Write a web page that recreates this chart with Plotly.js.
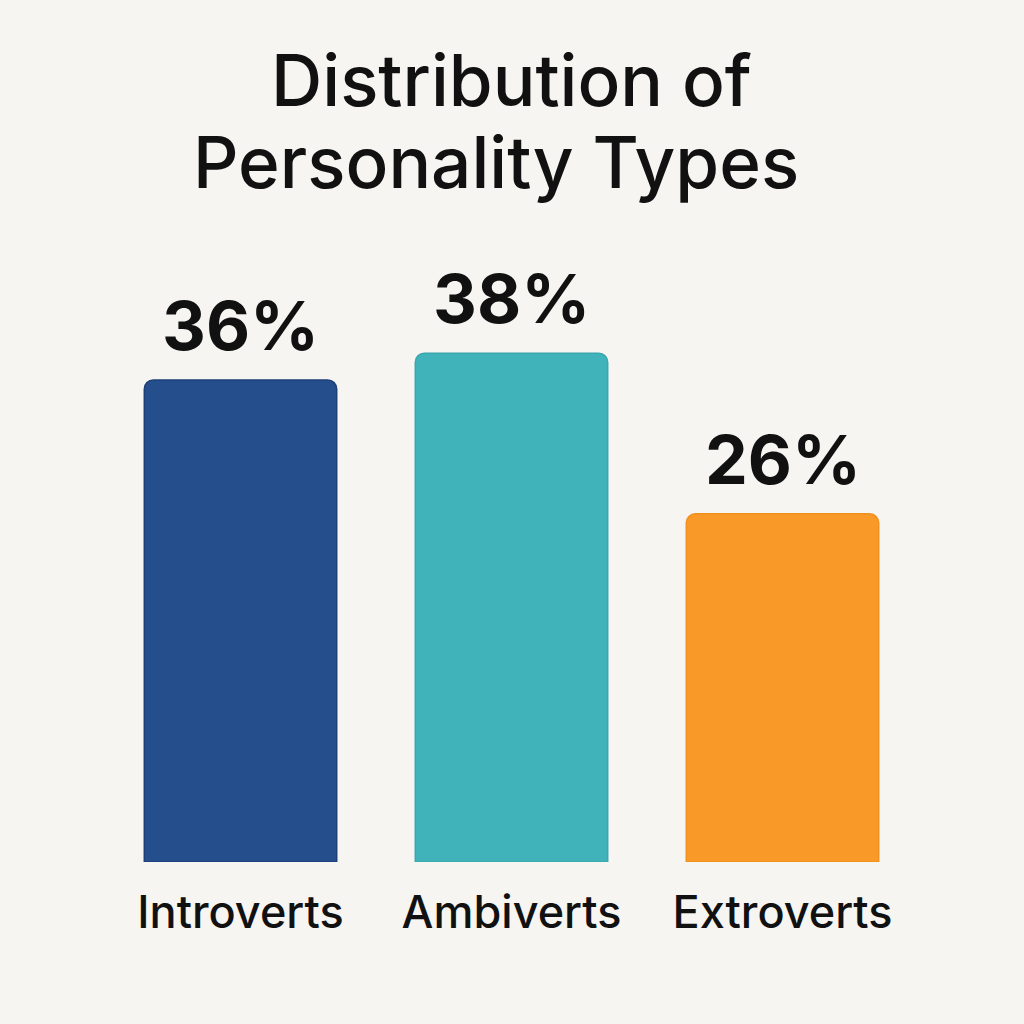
<!DOCTYPE html>
<html>
<head>
<meta charset="utf-8">
<script src="https://cdn.plot.ly/plotly-3.0.1.min.js"></script>
<style>
  html, body { margin: 0; padding: 0; background: #f6f5f2; }
  #chart { width: 1024px; height: 1024px; }
</style>
</head>
<body>
<div id="chart"></div>
<script>
// Personality type shares (percent)
const categories = ["Introverts", "Ambiverts", "Extroverts"];
const shares = [36, 38, 26];
const barColors = ["#254f8c", "#40b2ba", "#f99a28"];
const edgeColors = ["#1d3f78", "#3aa6ae", "#f0901e"];
const titleLines = ["Distribution of", "Personality Types"];

const FONT = "Inter, Lato, 'Open Sans', sans-serif";

const trace = {
  type: "bar",
  x: categories,
  y: shares,
  width: 0.71,
  marker: {
    color: barColors,
    line: { color: edgeColors, width: 1.5 },
    cornerradius: 9,
  },
  hoverinfo: "skip",
};

// percentage labels over each bar
const labels = categories.map((c, i) => ({
  x: c,
  y: shares[i],
  text: shares[i] + "%",
  showarrow: false,
  yanchor: "bottom",
  yshift: 12,
  font: { family: FONT, size: 68, color: "#111", weight: 700 },
}));

// title lines, one annotation each so the line pitch can be set
const titleY = [1.237, 1.108];
const titleShift = [0, -16];
titleLines.forEach((t, i) => {
  labels.push({
    xref: "paper",
    yref: "paper",
    x: 0.5,
    y: titleY[i],
    xshift: titleShift[i],
    xanchor: "center",
    yanchor: "middle",
    text: t,
    showarrow: false,
    font: { family: FONT, size: 71, color: "#111", weight: 500 },
  });
});

const layout = {
  width: 1024,
  height: 1024,
  margin: { l: 105, r: 106, t: 230, b: 162 },
  paper_bgcolor: "#f6f5f2",
  plot_bgcolor: "#f6f5f2",
  showlegend: false,
  xaxis: {
    showgrid: false,
    showline: false,
    zeroline: false,
    ticks: "",
    ticklabelstandoff: 20,
    tickfont: { family: FONT, size: 45, color: "#111", weight: 500 },
  },
  yaxis: {
    range: [0, 47.2],
    visible: false,
    showgrid: false,
    zeroline: false,
  },
  annotations: labels,
};

Plotly.newPlot("chart", [trace], layout, { displayModeBar: false, staticPlot: true });
</script>
</body>
</html>
